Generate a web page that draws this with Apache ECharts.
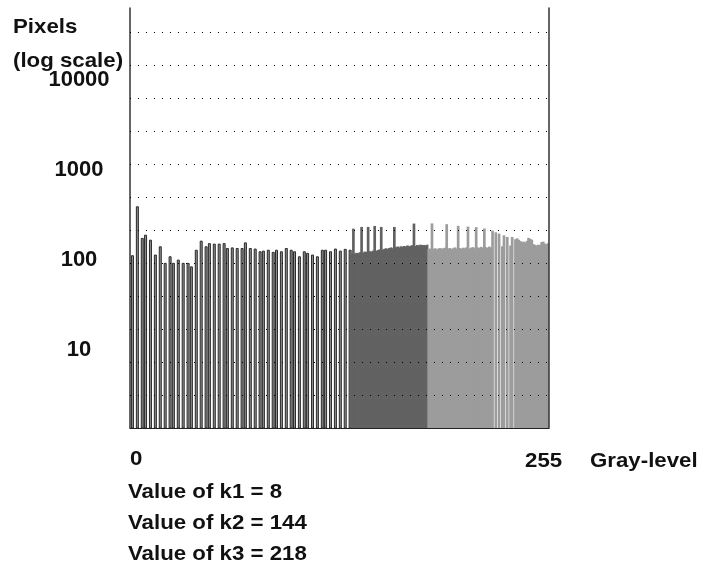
<!DOCTYPE html>
<html>
<head>
<meta charset="utf-8">
<title>Gray-level histogram</title>
<script src="https://cdn.jsdelivr.net/npm/echarts@6/dist/echarts.min.js"></script>
<style>
  html, body { margin: 0; padding: 0; background: #ffffff; }
  #chart { width: 710px; height: 572px; }
</style>
</head>
<body>
<div id="chart"></div>
<script>
// Histogram of pixel counts per gray level (0..255), log-scaled counts.

// Sparse part of the histogram: only some gray levels are populated.
const lowLevels = [1, 4, 7, 9, 12, 15, 18, 21, 24, 26, 29, 32, 35, 37, 40, 43, 46, 48, 51, 54,
  57, 59, 62, 65, 68, 70, 73, 76, 79, 81, 84, 87, 89, 92, 95, 98, 100, 103, 106, 108,
  111, 114, 117, 119, 122, 125, 128, 131, 134];
const lowCounts = [113, 395, 176, 191, 168, 115, 142, 93, 110, 93, 101, 93, 93, 85, 130, 164, 142, 154, 152, 152,
  154, 136, 138, 136, 136, 157, 136, 134, 125, 127, 130, 123, 130, 125, 136, 130, 125, 110, 125, 120,
  115, 110, 130, 130, 125, 134, 127, 133, 130];

// Dense middle band, gray levels 135..181.
const midStart = 135;
const midCounts = [117, 223, 118, 120, 119, 122, 233, 121, 124, 123, 233, 125, 124, 127, 239, 126,
  129, 131, 233, 130, 133, 135, 132, 136, 138, 135, 233, 139, 141, 138, 142, 140,
  143, 141, 145, 142, 144, 146, 254, 143, 147, 145, 148, 146, 147, 145, 148];

// Dense upper band, gray levels 182..255 (null = empty level).
const highStart = 182;
const highCounts = [132, 134, 255, 133, 135, 131, 134, 136, 133, 135, 137, 250, 134, 136, 132, 135,
  138, 134, 240, 136, 133, 137, 135, 138, 235, 134, 137, 139, 135, 232, 138, 136,
  140, 137, 224, 139, 136, 141, 138, 212, null, 203, null, 196, null, 142, 188, null,
  180, null, 145, 180, null, 170, 174, 168, 162, 158, 160, 155, 163, 176, 172, 168,
  150, 147, 145, 148, 146, 158, 160, 152, 150, 154];

const yTickValues = [10, 100, 1000, 10000];
const xEndLabels = ['0', '255'];
const kValues = [8, 144, 218];

const levels = [];
for (let i = 0; i < 256; i++) levels.push(String(i));

function emptySeries() {
  const arr = [];
  for (let i = 0; i < 256; i++) arr.push(null);
  return arr;
}
const lowData = emptySeries();
lowLevels.forEach((lv, i) => { lowData[lv] = lowCounts[i]; });
const midData = emptySeries();
midCounts.forEach((v, i) => { midData[midStart + i] = v; });
const highData = emptySeries();
highCounts.forEach((v, i) => { highData[highStart + i] = v; });

const FONT = '"Liberation Sans", Arial, sans-serif';
const textStyle = { fontFamily: FONT, fontWeight: 'bold', fontSize: 21, fill: '#111' };

// Place a text so that its capital letters are centred on y (slightly widened).
function label(text, x, y) {
  return {
    type: 'text', left: x, top: y - 9, scaleX: 1.06,
    style: Object.assign({ text: text }, textStyle)
  };
}

const chart = echarts.init(document.getElementById('chart'), null, { renderer: 'canvas' });

const xAxisBase = {
  type: 'category',
  data: levels,
  boundaryGap: true,
  axisTick: { show: false },
  axisLabel: { show: false },
  splitLine: { show: false }
};

chart.setOption({
  animation: false,
  backgroundColor: '#ffffff',
  grid: { left: 130, right: 161, top: 8, bottom: 144, containLabel: false },
  xAxis: [
    Object.assign({}, xAxisBase, { axisLine: { show: true, lineStyle: { color: '#222', width: 1 } } }),
    Object.assign({}, xAxisBase, { show: false }),
    Object.assign({}, xAxisBase, { show: false })
  ],
  yAxis: [
    {
      type: 'log',
      logBase: 10,
      min: 1.359,
      max: 63096,
      position: 'left',
      axisLine: { show: true, onZero: false, lineStyle: { color: '#333', width: 1.5 } },
      axisTick: { show: false },
      splitLine: { show: false },
      axisLabel: {
        show: true,
        interval: 0,
        showMinLabel: false,
        showMaxLabel: false,
        align: 'center',
        margin: 51,
        fontFamily: FONT,
        fontWeight: 'bold',
        fontSize: 22,
        color: '#111',
        formatter: function (v) {
          const r = Math.round(v);
          return yTickValues.indexOf(r) >= 0 ? String(r) : '';
        }
      }
    },
    {
      // Dotted reference lines drawn over the bars.
      type: 'value',
      min: 0,
      max: 12.727,
      interval: 1,
      position: 'right',
      z: 5,
      axisLine: { show: true, lineStyle: { color: '#333', width: 1.5 } },
      axisTick: { show: false },
      axisLabel: { show: false },
      splitLine: {
        show: true,
        showMinLine: false,
        showMaxLine: false,
        lineStyle: { type: [1, 7], color: '#000', width: 1 }
      }
    }
  ],
  series: [
    {
      name: 'low',
      type: 'bar',
      xAxisIndex: 0,
      yAxisIndex: 0,
      data: lowData,
      barWidth: 3,
      itemStyle: { color: '#8e8e8e', borderColor: '#2a2a2a', borderWidth: 1 },
      silent: true
    },
    {
      name: 'mid',
      type: 'bar',
      xAxisIndex: 1,
      yAxisIndex: 0,
      data: midData,
      barWidth: 2.7,
      itemStyle: { color: '#626262' },
      silent: true
    },
    {
      name: 'high',
      type: 'bar',
      xAxisIndex: 2,
      yAxisIndex: 0,
      data: highData,
      barWidth: 2.7,
      itemStyle: { color: '#9c9c9c' },
      silent: true
    }
  ],
  graphic: [
    label('Pixels', 13, 26),
    label('(log scale)', 13, 59.5),
    label(xEndLabels[0], 130, 458),
    label(xEndLabels[1], 525, 460),
    label('Gray-level', 590, 460),
    label('Value of k1 = ' + kValues[0], 128, 491),
    label('Value of k2 = ' + kValues[1], 128, 522),
    label('Value of k3 = ' + kValues[2], 128, 553)
  ]
});
</script>
</body>
</html>
